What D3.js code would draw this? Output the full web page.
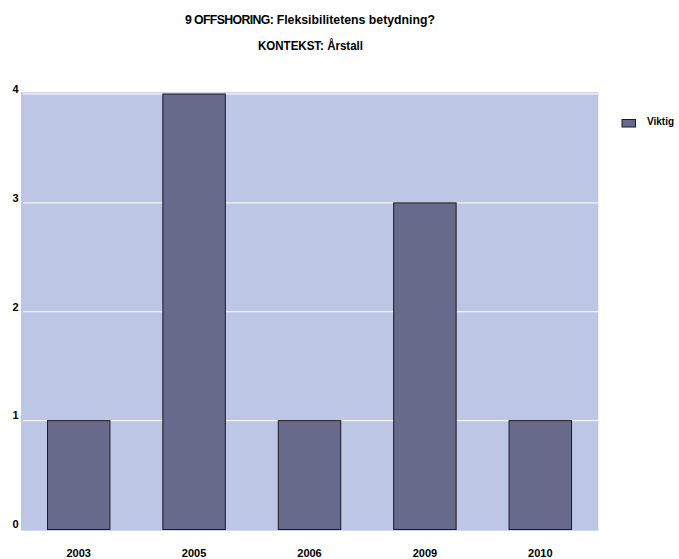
<!DOCTYPE html>
<html><head><meta charset="utf-8">
<script src="https://cdn.jsdelivr.net/npm/d3@7"></script>
<style>body{margin:0;background:#fff}svg{display:block}text{font-family:"Liberation Sans",Arial,sans-serif;font-weight:bold;fill:#000}</style>
</head><body>
<script>
const categories = ["2003","2005","2006","2009","2010"];
const values = [1,4,1,3,1];
const yTicks = [0,1,2,3,4];
const seriesName = "Viktig";
const titleLines = ["9 OFFSHORING: Fleksibilitetens betydning?","KONTEKST: Årstall"];

const W=679,H=559;
const svg=d3.select("body").append("svg").attr("width",W).attr("height",H);
const x=d3.scaleBand().domain(categories).range([21,598]).paddingInner(0.45).paddingOuter(0.225);
const y=d3.scaleLinear().domain([0,4]).range([529.5,94]);

svg.append("rect").attr("x",21).attr("y",92.3).attr("width",577.3).attr("height",438.4).attr("fill","#bec6e6");
svg.append("g").selectAll("line").data(yTicks.filter(d=>d>0)).join("line")
  .attr("x1",23).attr("x2",598).attr("y1",d=>y(d)).attr("y2",d=>y(d))
  .attr("stroke","#ffffff").attr("stroke-width",1);

svg.append("g").selectAll("rect").data(values).join("rect")
  .attr("x",(d,i)=>x(categories[i])+0.5).attr("y",d=>y(d))
  .attr("width",x.bandwidth()-1).attr("height",d=>y(0)-y(d))
  .attr("fill","#676a8a").attr("stroke","#1a1a22").attr("stroke-width",1);

const yAxis=d3.axisLeft(y).tickValues(yTicks).tickSize(0).tickPadding(0).tickFormat(d3.format("d"));
const ya=svg.append("g").attr("transform","translate(18.5,0)").call(yAxis);
ya.select(".domain").remove();
ya.selectAll("text").attr("font-size",11).attr("dy","-0.15em").attr("font-family",null);

const xAxis=d3.axisBottom(x).tickSize(0).tickPadding(0);
const xa=svg.append("g").attr("transform","translate(0,549)").call(xAxis);
xa.select(".domain").remove();
xa.selectAll("text").attr("font-size",11).attr("dy","0.71em").attr("font-family",null);

const parts=titleLines[0].split(": ");
const t1=svg.append("text").attr("x",310).attr("y",24.3).attr("text-anchor","middle").attr("font-size",12)
  .attr("textLength",250).attr("lengthAdjust","spacingAndGlyphs");
t1.append("tspan").attr("letter-spacing",-0.6).text(parts[0]+":");
t1.append("tspan").text(" "+parts[1]);
svg.append("text").attr("x",310.5).attr("y",50.3).attr("text-anchor","middle").attr("font-size",12)
  .attr("textLength",105).attr("lengthAdjust","spacingAndGlyphs").text(titleLines[1]);

svg.append("rect").attr("x",622).attr("y",119.5).attr("width",13.5).attr("height",7.5)
  .attr("fill","#676a8a").attr("stroke","#1a1a22").attr("stroke-width",1);
svg.append("text").attr("x",647).attr("y",124.5).attr("font-size",10).text(seriesName);
</script>
</body></html>
